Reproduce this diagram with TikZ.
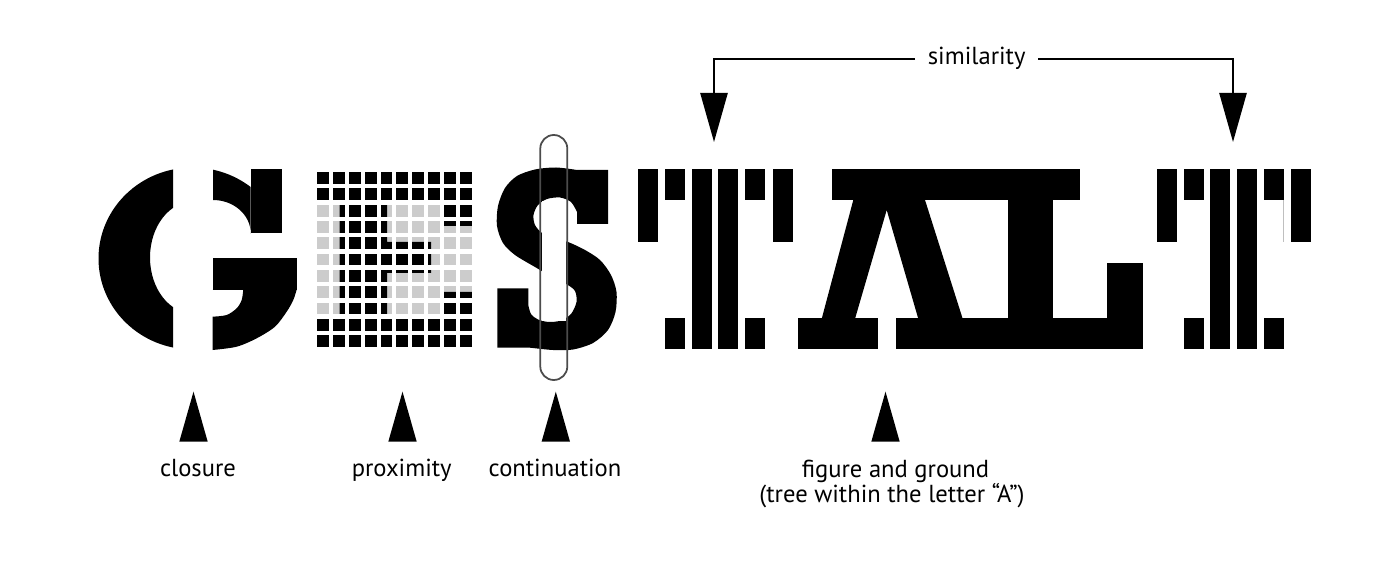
\documentclass[tikz,border=0pt]{standalone}
\usepackage{fontspec}
\setmainfont{PT Sans}
\usetikzlibrary{arrows.meta}
\begin{document}
\begin{tikzpicture}[x=0.02cm,y=-0.02cm,
  lbl/.style={font=\fontsize{14}{16}\selectfont, inner sep=0pt, text=black},
  pointer/.style={fill=black},
  simline/.style={line width=1.2pt, -{Triangle[length=28pt,width=15.5pt]}},
  sqgray/.style={fill=black!20},
  sqblack/.style={fill=black},
  clipline/.style={draw=black!70, line width=1pt}]
\useasboundingbox[fill=white] (0,0) rectangle (1400,584);

% ---------------- G (closure) ----------------
\begin{scope}
  \clip (0,0) rectangle (173,584);
  \fill[even odd rule] (192.5,258.5) ellipse[x radius=94,y radius=91]
                       (193,257.5) ellipse[x radius=43,y radius=56];
\end{scope}
\begin{scope}
  \clip (213,0) rectangle (250.7,233.3);
  \fill[even odd rule] (192.5,258.5) ellipse[x radius=94,y radius=91]
                       (213,233.3) ellipse[x radius=37.7,y radius=33.3];
\end{scope}
\fill (250.7,169.3) rectangle (281.7,233.3);
\fill (212.7,258.3) rectangle (296.7,290);
\fill (212.7,289.5) -- plot[smooth] coordinates {(296.7,289.5) (293.3,300) (286.7,311.7) (275,326.7) (256.7,338.3) (236.7,346.7) (212.7,350)}
      -- plot[smooth] coordinates {(212.7,316.7) (226.7,315) (236.7,308.3) (241.7,300) (243.3,289.5)} -- cycle;

% ---------------- E (proximity) ----------------
\foreach \i in {0,...,9}{\foreach \j in {0,...,10}{
  \fill[sqgray] ({317.2+15.85*\i},{172.2+16.3*\j}) rectangle ++(11.8,11.8);}}
\begin{scope}
  \clip (305,160) rectangle (485,202) (441,160) rectangle (485,226)
        (339.5,160) rectangle (387,360) (387,242) rectangle (431,273)
        (305,316) rectangle (485,360) (441,292) rectangle (485,360);
  \foreach \i in {0,...,9}{\foreach \j in {0,...,10}{
    \fill[sqblack] ({317.2+15.85*\i},{172.2+16.3*\j}) rectangle ++(11.8,11.8);}}
\end{scope}

% ---------------- S (continuation) ----------------
\fill (497.3,288.3) -- (528.3,288.3) -- (528.3,305)
  -- plot[smooth] coordinates {(528.3,305) (531,314) (538,319.5) (549,322) (561,320.5) (571,314) (576.5,302) (575,291) (567,284.5) (552,277) (535,267) (515,255) (503,243) (497,226) (498,206) (505,188) (517,176) (535,169.5) (556,167.5) (577,170)}
  -- (608,170) -- (608,224) -- (577,224) -- (577,212)
  -- plot[smooth] coordinates {(577,212) (571,202) (560,197.5) (547,199) (538,205) (533.5,215) (535,225) (542,233) (553,238) (568,242) (585,250) (600,260) (611,275) (616.5,292) (615.5,312) (608,330) (593,343) (573,349.5) (553,350) (528.3,347.5)}
  -- (497.3,347.5) -- cycle;
\fill[white] (541.5,201) rectangle (566,321.5);
\draw[clipline, rounded corners=0.27cm] (540.3,135) rectangle (567.3,380);

% ---------------- T ----------------
\foreach \x/\w in {638.3/20,772.7/20,1157.3/19.5,1290.7/20}{
  \fill (\x,169.3) rectangle ++(\w,72.4);}
\foreach \x/\w in {665/20,745/20,1184/19.5,1264/19.5}{
  \fill (\x,169.3) rectangle ++(\w,30.7);
  \fill (\x,318.3) rectangle ++(\w,31);}
\foreach \x/\w in {691.7/20,718.3/20,1210/20,1236.7/20}{
  \fill (\x,169.3) rectangle ++(\w,180);}
\draw[black!25, line width=0.4pt] (1283.5,200) -- (1283.5,241.7);

% ---------------- A and L (figure and ground) ----------------
\fill (831.7,169.3) rectangle (1080,200.5);
\fill (853.3,200) -- (925,200) -- (962.7,318.8) -- (918.3,318.8) -- (886.7,210)
      -- (855,318.8) -- (821.7,318.8) -- cycle;
\fill (1008.3,200) rectangle (1053.3,318.8);
\fill (798.3,318.3) rectangle (878.3,349.3);
\fill (896,318.3) rectangle (1142.7,349.3);
\fill (1106.7,263.3) rectangle (1142.7,349.3);

% ---------------- pointers ----------------
\foreach \x in {193.5,402.5,555.8,885.5}{
  \fill[pointer] (\x,391.7) -- ({\x+14.2},441.7) -- ({\x-14.2},441.7) -- cycle;}

% ---------------- labels ----------------
\node[lbl,anchor=base] (lclosure) at (198,476.5) {closure};
\node[lbl,anchor=base] (lprox) at (401.7,476.5) {proximity};
\node[lbl,anchor=base] (lcont) at (555,476.5) {continuation};
\node[lbl,anchor=base] (lfig1) at (895.5,477) {figure and ground};
\node[lbl,anchor=base] (lfig2) at (892,502) {(tree within the letter “A”)};

% ---------------- similarity ----------------
\node[lbl,anchor=base,inner xsep=7pt] (lsim) at (976.7,65) {similarity};
\coordinate (tipA) at (714,142);
\coordinate (tipB) at (1233,142);
\draw[simline] (lsim.west) -| (tipA);
\draw[simline] (lsim.east) -| (tipB);
\end{tikzpicture}
\end{document}
